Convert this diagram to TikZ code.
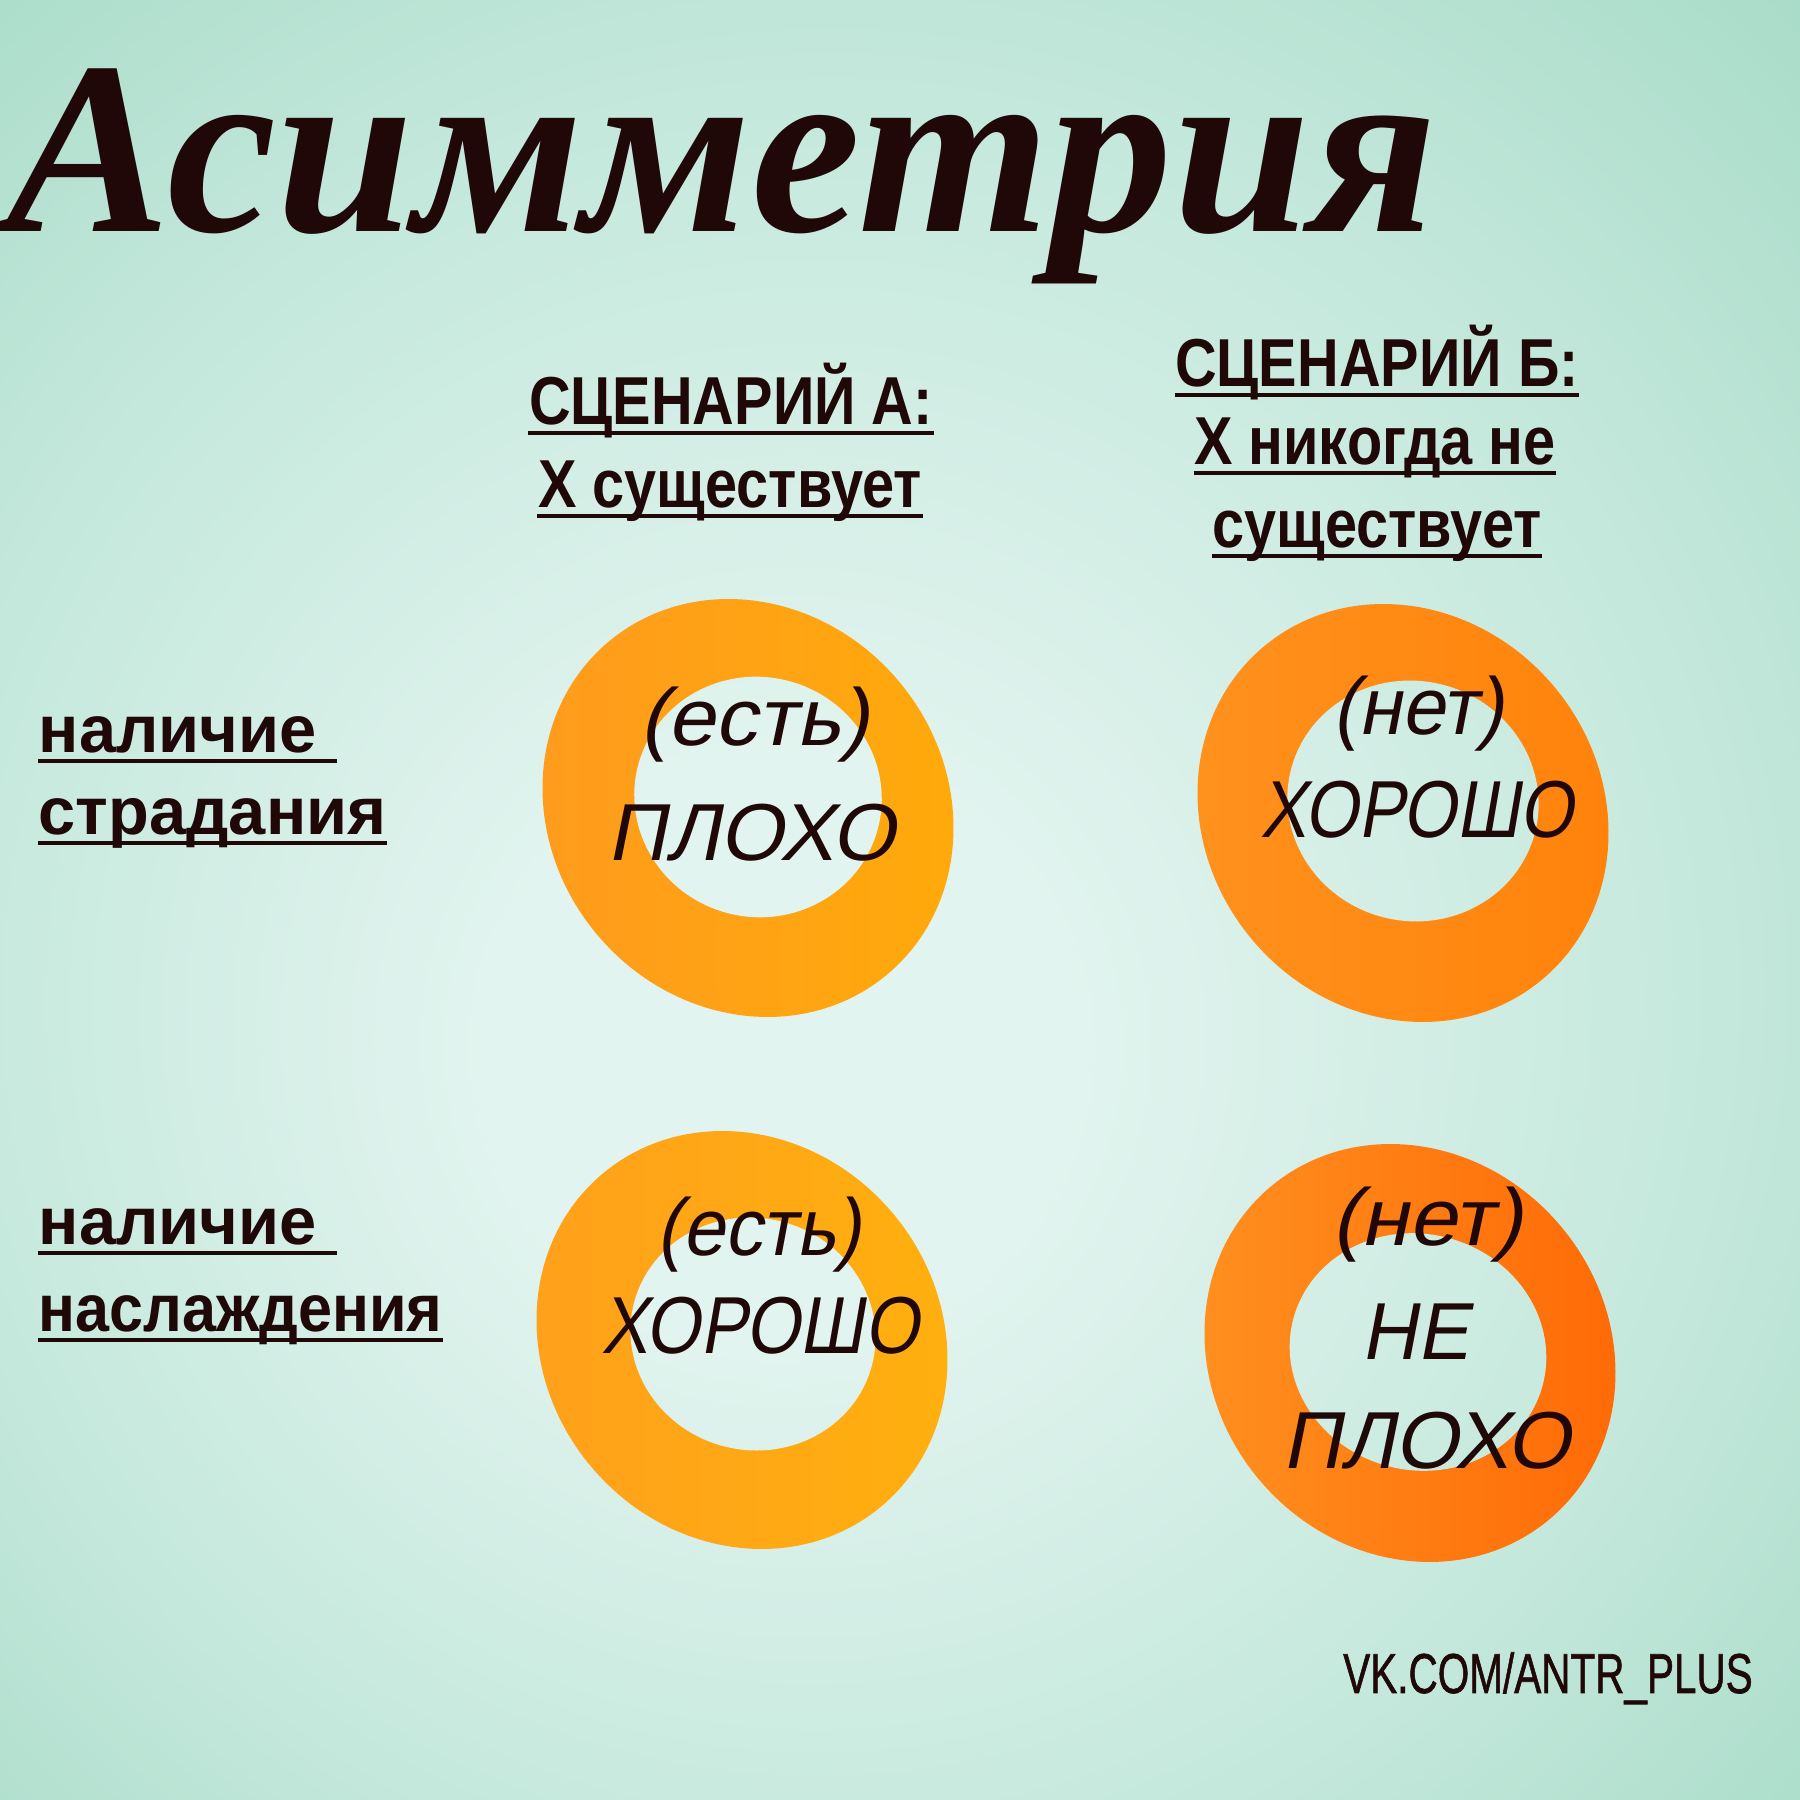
\documentclass[tikz,border=0pt]{standalone}
\usepackage{fontspec}
\setmainfont{Liberation Sans}
\newfontfamily\titlefont{Liberation Serif}
\newfontfamily\ringfont[FakeSlant=0.2]{Liberation Sans}
\newfontfamily\sitefont[FakeBold=1.2]{Liberation Sans}
\usepackage{graphicx}
\usepackage{tikz}
\usetikzlibrary{positioning}
\definecolor{inkBrown}{RGB}{32,8,8}
\definecolor{mintIn}{RGB}{226,244,239}
\definecolor{mintMid}{RGB}{196,232,220}
\definecolor{mintOut}{RGB}{167,219,199}
\definecolor{ringOneL}{RGB}{255,155,30}
\definecolor{ringOneR}{RGB}{255,170,10}
\definecolor{ringTwoL}{RGB}{255,146,30}
\definecolor{ringTwoR}{RGB}{255,130,10}
\definecolor{ringThreeL}{RGB}{255,160,28}
\definecolor{ringThreeR}{RGB}{255,176,14}
\definecolor{ringFourL}{RGB}{255,145,32}
\definecolor{ringFourR}{RGB}{255,105,5}
\pgfdeclareradialshading{mintglow}{\pgfpoint{-4bp}{-5bp}}{color(0bp)=(mintIn); color(8bp)=(mintIn); color(25bp)=(mintMid); color(38bp)=(mintOut); color(50bp)=(mintOut)}
\newcommand{\condense}[2][0.9]{\scalebox{#1}[1]{#2}}
\tikzset{
  scen/.style={anchor=base, inner sep=0pt, text=inkBrown, font=\fontsize{19.3}{22}\selectfont\bfseries},
  rowlab/.style={anchor=base west, inner sep=0pt, text=inkBrown, font=\fontsize{19}{22}\selectfont\bfseries},
  ringtxt/.style={anchor=base, inner sep=0pt, text=inkBrown, font=\fontsize{23}{26}\selectfont\ringfont},
  uline/.style={inkBrown, line width=1.3pt},
}
\begin{document}
\begin{tikzpicture}
\useasboundingbox (0,0) rectangle (18,18);
\shade[shading=mintglow] (0,0) rectangle (18,18);

% title
\node[anchor=base west, inner sep=0pt, text=inkBrown, font=\titlefont\bfseries\itshape]
  (title) at (0.06,15.68) {\resizebox{14.3cm}{!}{Асимметрия}};

% column heads
\node[scen] (a1) at (7.31,13.75) {\condense[0.85]{СЦЕНАРИЙ А:}};
\node[scen] (a2) at (7.30,12.92) {\condense[0.85]{Х существует}};
\node[scen] (b1) at (13.77,14.13) {\condense[0.85]{СЦЕНАРИЙ Б:}};
\node[scen] (b2) at (13.75,13.35) {\condense[0.85]{Х никогда не}};
\node[scen] (b3) at (13.77,12.52) {\condense[0.85]{существует}};

% row heads
\node[rowlab] (r1) at (0.38,10.47) {наличие\hspace{0.2cm}\mbox{}};
\node[rowlab] (r2) at (0.38,9.65) {страдания};
\node[rowlab] (r3) at (0.38,5.55) {наличие\hspace{0.2cm}\mbox{}};
\node[rowlab] (r4) at (0.38,4.68) {\condense[0.915]{наслаждения}};

\foreach \n in {a1,a2,b1,b2,b3,r1,r2,r3,r4}
  \draw[uline] ([yshift=-0.08cm]\n.base west) -- ([yshift=-0.08cm]\n.base east);

% rings: outer disc, then the hole repainted with the background
\foreach \ox/\oy/\hx/\hy/\ha/\hb/\cl/\cr in {
    7.48/9.92/7.58/10.03/1.24/1.20/ringOneL/ringOneR,
    14.03/9.87/14.13/9.99/1.26/1.20/ringTwoL/ringTwoR,
    7.42/4.60/7.53/4.66/1.23/1.16/ringThreeL/ringThreeR,
    14.10/4.47/14.18/4.48/1.29/1.18/ringFourL/ringFourR}{
  \begin{scope}[shift={(\ox,\oy)}, rotate=-50]
    \shade[left color=\cl, right color=\cr] (0,0) ellipse (2.17 and 1.97);
  \end{scope}
  \begin{scope}
    \clip[rotate around={-15:(\hx,\hy)}] (\hx,\hy) ellipse (\ha cm and \hb cm);
    \shade[shading=mintglow] (0,0) rectangle (18,18);
  \end{scope}
}

% ring texts
\node[ringtxt] (t1a) at (7.54,10.54) {\condense[1.05]{(есть)}};
\node[ringtxt] (t1b) at (7.51,9.39) {\condense[1.01]{ПЛОХО}};
\node[ringtxt] (t2a) at (14.18,10.65) {\condense[0.96]{(нет)}};
\node[ringtxt] (t2b) at (14.17,9.62) {\condense[0.855]{ХОРОШО}};
\node[ringtxt] (t3a) at (7.59,5.44) {\condense[0.935]{(есть)}};
\node[ringtxt] (t3b) at (7.60,4.46) {\condense[0.865]{ХОРОШО}};
\node[ringtxt] (t4a) at (14.27,5.54) {\condense[1.07]{(нет)}};
\node[ringtxt] (t4b) at (14.15,4.40) {\condense[0.95]{НЕ}};
\node[ringtxt] (t4c) at (14.26,3.31) {\condense[1.01]{ПЛОХО}};

% site mark
\node[anchor=base, inner sep=0pt, text=inkBrown, font=\fontsize{16}{18}\selectfont\sitefont]
  (site) at (15.48,1.07) {\condense[0.72]{VK.COM/ANTR\_PLUS}};
\end{tikzpicture}
\end{document}
